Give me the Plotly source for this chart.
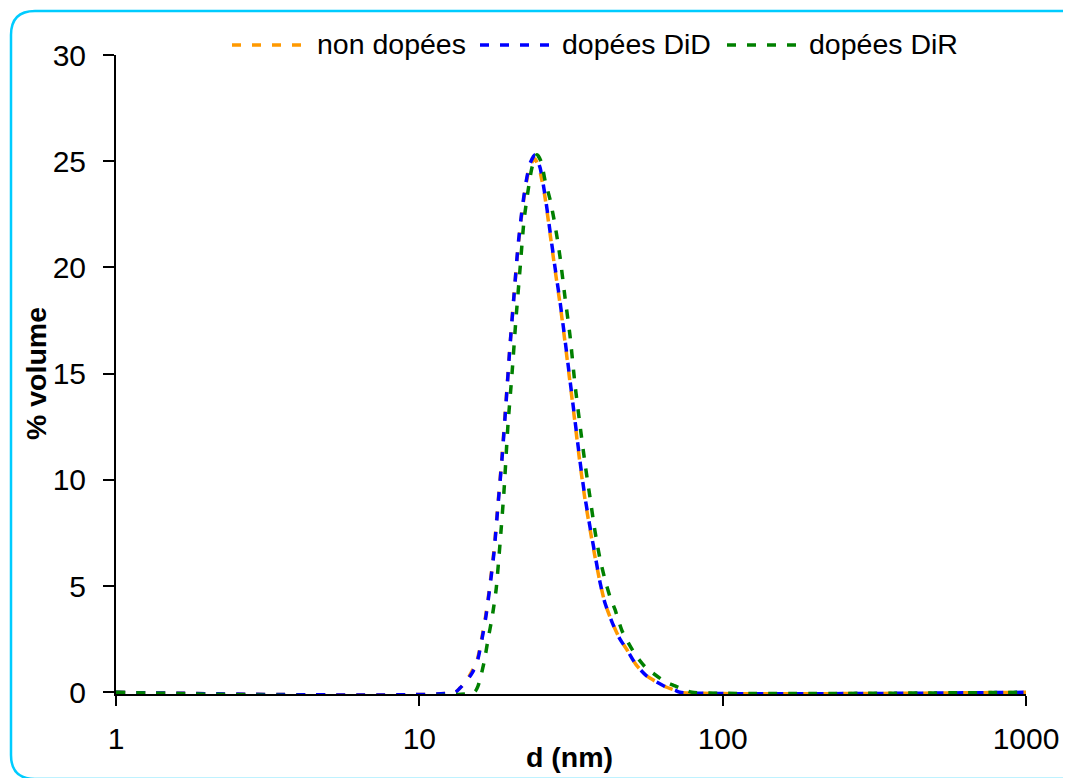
import plotly.graph_objects as go

# ---------------- data ----------------
d_non = [1, 13.11, 13.62, 14.25, 14.92, 15.50, 16.09, 16.59, 17.10, 17.63, 18.17, 18.73,
         19.31, 19.90, 20.52, 21.15, 21.80, 22.47, 23.17, 24.06, 25.00, 25.96, 26.97,
         28.01, 29.09, 30.21, 31.38, 32.59, 33.84, 35.15, 36.51, 37.92, 39.39, 40.93,
         43.49, 45.87, 48.37, 51.81, 55.88, 60.29, 65.04, 69.65, 72.35, 1000]
v_non = [0, 0, 0.2, 0.5, 1.0, 1.5, 2.6, 3.7, 5.1, 6.7, 8.9, 11.1, 13.7, 16.3, 18.7, 20.9,
         22.6, 23.9, 24.8, 25.1, 24.5, 23.3, 21.6, 19.9, 18.3, 16.5, 14.6, 12.7, 10.8,
         9.1, 7.7, 6.4, 5.2, 4.2, 3.2, 2.5, 2.0, 1.3, 0.8, 0.5, 0.25, 0.1, 0, 0]

d_did = [1, 13.11, 13.62, 14.25, 14.92, 15.50, 16.09, 16.59, 17.10, 17.63, 18.17, 18.73,
         19.31, 19.90, 20.52, 21.15, 21.80, 22.47, 23.17, 24.06, 25.00, 25.96, 26.97,
         28.01, 29.09, 30.21, 31.38, 32.59, 33.84, 35.15, 36.51, 37.92, 39.39, 40.93,
         43.49, 45.87, 48.37, 51.81, 55.88, 60.29, 65.04, 69.65, 72.35, 1000]
v_did = [0, 0, 0.2, 0.5, 0.9, 1.4, 2.5, 3.6, 5.0, 6.6, 8.8, 11.0, 13.6, 16.3, 18.7, 21.0,
         22.7, 24.0, 24.9, 25.3, 24.7, 23.4, 21.7, 20.0, 18.4, 16.6, 14.7, 12.8, 10.9,
         9.2, 7.8, 6.5, 5.2, 4.2, 3.2, 2.5, 2.0, 1.3, 0.8, 0.5, 0.25, 0.1, 0, 0]

d_dir = [1, 15.15, 15.62, 16.34, 16.85, 17.36, 17.90, 18.45, 19.02, 19.60, 20.21, 20.83,
         21.47, 22.13, 22.82, 23.52, 24.43, 25.18, 25.96, 26.97, 28.01, 29.09, 30.21,
         31.38, 32.59, 33.84, 35.15, 36.51, 37.92, 39.39, 40.93, 42.51, 44.16, 46.57,
         51.39, 55.46, 58.93, 64.55, 69.65, 75.14, 79.24, 1000]
v_dir = [0, 0, 0.3, 1.4, 2.5, 3.5, 4.8, 7.0, 9.5, 12.6, 15.0, 17.6, 19.9, 22.2, 23.6,
         24.7, 25.3, 25.0, 24.1, 23.2, 22.0, 20.5, 18.6, 16.8, 14.5, 12.6, 10.8, 9.2,
         7.6, 6.3, 5.3, 4.5, 3.9, 2.9, 1.8, 1.2, 0.9, 0.5, 0.3, 0.1, 0, 0]

series_names = ["non dopées", "dopées DiD", "dopées DiR"]
series_colors = ["#FF9900", "#0000FF", "#008000"]

x_ticks = [1, 10, 100, 1000]
x_tick_text = ["1", "10", "100", "1000"]
y_ticks = [0, 5, 10, 15, 20, 25, 30]

x_title = "d (nm)"
y_title = "% volume"

# ---------------- layout geometry ----------------
OFF = 8                      # page body margin of the html page
W, H = 1071 - OFF, 778 - OFF
L, R, T, B = 116, 1026, 55, 694   # plot area in screenshot pixels
FONT = "Liberation Sans, Arial, sans-serif"
DASH = "9px,11px"
LW = 3.5


def px(x):
    return (x - L) / (R - L)


def py(y):
    return (B - y) / (B - T)


fig = go.Figure()
for dx, vy, name, col in zip([d_non, d_did, d_dir], [v_non, v_did, v_dir],
                             series_names, series_colors):
    fig.add_trace(go.Scatter(x=dx, y=vy, mode="lines", name=name,
                             line=dict(color=col, width=LW, dash=DASH, shape="spline",
                                       smoothing=0.6),
                             showlegend=False))

shapes = []
annotations = []

# manual legend (line samples + text)
leg_y = 45
leg_items = [(232, 310, 315), (480, 557, 560), (727, 805, 807)]
for (x0, x1, xt), name, col in zip(leg_items, series_names, series_colors):
    shapes.append(dict(type="line", xref="paper", yref="paper",
                       x0=px(x0), x1=px(x1), y0=py(leg_y), y1=py(leg_y),
                       line=dict(color=col, width=LW, dash=DASH)))
    annotations.append(dict(xref="paper", yref="paper", x=px(xt), y=py(leg_y - 1),
                            text=name, showarrow=False, xanchor="left", yanchor="middle",
                            font=dict(family=FONT, size=28.5, color="black")))

# axis titles
annotations.append(dict(xref="paper", yref="paper", x=px(569), y=py(757), text="<b>" + x_title + "</b>",
                        showarrow=False, xanchor="center", yanchor="middle",
                        font=dict(family=FONT, size=28.5, color="black")))
annotations.append(dict(xref="paper", yref="paper", x=px(36), y=py(374), text="<b>" + y_title + "</b>",
                        showarrow=False, xanchor="center", yanchor="middle", textangle=-90,
                        font=dict(family=FONT, size=28.5, color="black")))

# rounded cyan frame
bl, bt, br, bb, r = 11, 11, 1084, 779, 24
path = (f"M {px(bl + r)},{py(bt)} L {px(br - r)},{py(bt)} "
        f"Q {px(br)},{py(bt)} {px(br)},{py(bt + r)} L {px(br)},{py(bb - r)} "
        f"Q {px(br)},{py(bb)} {px(br - r)},{py(bb)} L {px(bl + r)},{py(bb)} "
        f"Q {px(bl)},{py(bb)} {px(bl)},{py(bb - r)} L {px(bl)},{py(bt + r)} "
        f"Q {px(bl)},{py(bt)} {px(bl + r)},{py(bt)} Z")
shapes.append(dict(type="path", xref="paper", yref="paper", path=path,
                   line=dict(color="#00CCFF", width=2.5), layer="above"))

fig.update_layout(
    width=W, height=H,
    margin=dict(l=L - OFF, r=1071 - R, t=T - OFF, b=778 - B, pad=0),
    paper_bgcolor="white", plot_bgcolor="white",
    font=dict(family=FONT, color="black"),
    showlegend=False,
    shapes=shapes, annotations=annotations,
    xaxis=dict(type="log", range=[0, 3], tickvals=x_ticks, ticktext=x_tick_text,
               ticks="outside", ticklen=10, tickwidth=2, tickcolor="black",
               showline=True, linecolor="black", linewidth=2, layer="below traces",
               showgrid=False, zeroline=False, ticklabelstandoff=7,
               tickfont=dict(family=FONT, size=30, color="black")),
    yaxis=dict(range=[-0.08, 30], tickvals=y_ticks,
               ticks="outside", ticklen=11, tickwidth=2, tickcolor="black",
               showline=True, linecolor="black", linewidth=2, layer="below traces",
               showgrid=False, zeroline=False, ticklabelstandoff=11,
               tickfont=dict(family=FONT, size=30, color="black")),
)

fig.write_html("out.html")
